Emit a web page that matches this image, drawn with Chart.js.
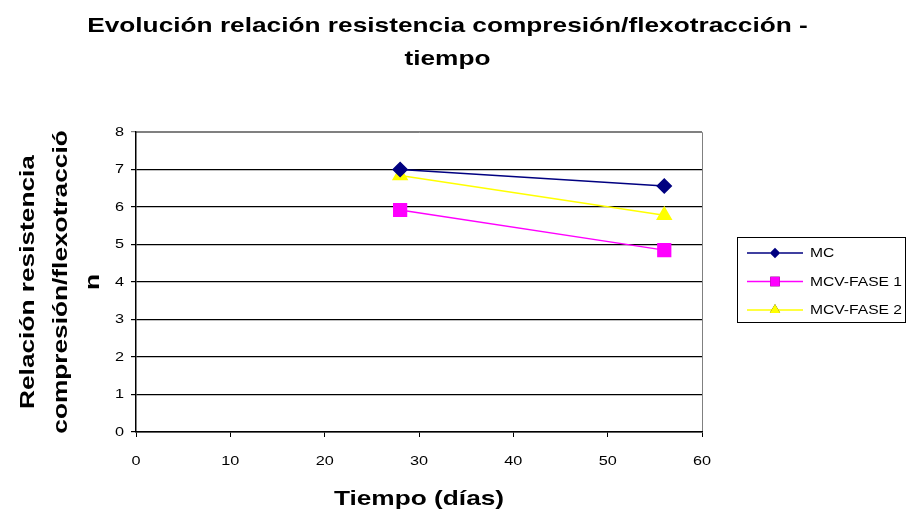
<!DOCTYPE html>
<html lang="es">
<head>
<meta charset="UTF-8">
<title>Evolución relación resistencia compresión/flexotracción</title>
<script src="https://cdn.jsdelivr.net/npm/chart.js"></script>
<style>
    html, body { margin: 0; padding: 0; background: #fff; }
    #wrap { width: 907px; height: 511px; }
</style>
</head>
<body>
<div id="wrap"><canvas id="relacionChart" width="907" height="511"></canvas></div>
<script>
// Datos: edad de ensayo (días) y relación compresión/flexotracción
const dias = [28, 56];
const serieMC = [7.0, 6.56];
const serieFase1 = [5.92, 4.85];
const serieFase2 = [6.84, 5.78];
const nombres = ['MC', 'MCV-FASE 1', 'MCV-FASE 2'];
const titulo = ['Evolución relación resistencia compresión/flexotracción -', 'tiempo'];
const ticksY = [0, 1, 2, 3, 4, 5, 6, 7, 8];
const ticksX = [0, 10, 20, 30, 40, 50, 60];

const FUENTE = "'Liberation Sans', Arial, sans-serif";
const ENSANCHE = 1.25; // texto ensanchado en horizontal, como en la hoja de cálculo

function puntos(valores) {
    return dias.map((d, i) => ({ x: d, y: valores[i] }));
}

const lienzo = document.getElementById('relacionChart');
const ctx2d = lienzo.getContext('2d');

// Todo el texto se dibuja ensanchado respecto a su punto de anclaje
const fillTextOriginal = ctx2d.fillText.bind(ctx2d);
ctx2d.fillText = function (texto, x, y) {
    this.save();
    this.translate(x, y);
    this.scale(ENSANCHE, 1);
    fillTextOriginal(texto, 0, 0);
    this.restore();
};

// Marco gris del área de trazado (lado superior y derecho)
const marcoPlugin = {
    id: 'marco',
    beforeDraw(chart) {
        const a = chart.chartArea;
        const ctx = chart.ctx;
        ctx.save();
        ctx.strokeStyle = '#808080';
        ctx.lineWidth = 1;
        ctx.beginPath();
        ctx.moveTo(a.left, a.top + 0.5);
        ctx.lineTo(a.right + 0.5, a.top + 0.5);
        ctx.lineTo(a.right + 0.5, a.bottom);
        ctx.stroke();
        ctx.restore();
    }
};

// Título en dos líneas centrado en el lienzo
const tituloPlugin = {
    id: 'tituloCentrado',
    afterDraw(chart) {
        const ctx = chart.ctx;
        ctx.save();
        ctx.font = 'bold 21px ' + FUENTE;
        ctx.fillStyle = '#000';
        ctx.textAlign = 'center';
        ctx.textBaseline = 'alphabetic';
        titulo.forEach((linea, i) => {
            ctx.fillText(linea, chart.width / 2 - 6, 32 + i * 33);
        });
        ctx.restore();
    }
};

// Leyenda con recuadro a la derecha
const leyendaPlugin = {
    id: 'leyendaCaja',
    afterDraw(chart) {
        const ctx = chart.ctx;
        const x0 = 737, y0 = 237, w = 169, h = 86;
        ctx.save();
        ctx.fillStyle = '#fff';
        ctx.fillRect(x0, y0, w, h);
        ctx.strokeStyle = '#000';
        ctx.lineWidth = 1;
        ctx.strokeRect(x0 + 0.5, y0 + 0.5, w - 1, h - 1);
        ctx.font = '12.5px ' + FUENTE;
        ctx.textBaseline = 'middle';
        chart.data.datasets.forEach((ds, i) => {
            const y = y0 + 16 + i * 28.5;
            ctx.strokeStyle = ds.borderColor;
            ctx.lineWidth = 1.5;
            ctx.beginPath();
            ctx.moveTo(747, y);
            ctx.lineTo(803, y);
            ctx.stroke();
            Chart.helpers.drawPoint(ctx, {
                pointStyle: ds.pointStyle,
                radius: ds.pointRadius * 0.75,
                borderWidth: 0
            }, 775, y);
            ctx.fillStyle = ds.pointBackgroundColor;
            ctx.fill();
            ctx.fillStyle = '#000';
            ctx.fillText(ds.label, 810, y + 1);
        });
        ctx.restore();
    }
};

new Chart(lienzo, {
    type: 'line',
    data: {
        datasets: [
            {
                label: nombres[0],
                data: puntos(serieMC),
                borderColor: '#000080',
                pointBackgroundColor: '#000080',
                pointBorderColor: '#000080',
                pointStyle: 'rectRot',
                pointRadius: 7,
                borderWidth: 1.5
            },
            {
                label: nombres[1],
                data: puntos(serieFase1),
                borderColor: '#FF00FF',
                pointBackgroundColor: '#FF00FF',
                pointBorderColor: '#FF00FF',
                pointStyle: 'rect',
                pointRadius: 9,
                borderWidth: 1.5
            },
            {
                label: nombres[2],
                data: puntos(serieFase2),
                borderColor: '#FFFF00',
                pointBackgroundColor: '#FFFF00',
                pointBorderColor: '#FFFF00',
                pointStyle: 'triangle',
                pointRadius: 8,
                borderWidth: 1.5
            }
        ]
    },
    options: {
        responsive: false,
        animation: false,
        layout: { padding: { left: 0, right: 205, top: 132, bottom: 0 } },
        plugins: {
            legend: { display: false },
            tooltip: { enabled: false },
            title: { display: false }
        },
        scales: {
            x: {
                type: 'linear',
                min: 0,
                max: 60,
                afterBuildTicks(scale) {
                    scale.ticks = ticksX.map(v => ({ value: v }));
                },
                afterFit(scale) { scale.height = 79; },
                border: { display: true, color: '#000', width: 1.5 },
                grid: {
                    drawOnChartArea: false,
                    drawTicks: true,
                    tickLength: 5,
                    color: '#000'
                },
                ticks: {
                    color: '#000',
                    font: { family: FUENTE, size: 13 },
                    padding: 17
                },
                title: {
                    display: true,
                    text: 'Tiempo (días)',
                    color: '#000',
                    font: { family: FUENTE, size: 21, weight: 'bold' },
                    padding: { top: 12, bottom: -1 }
                }
            },
            y: {
                min: 0,
                max: 8,
                afterBuildTicks(scale) {
                    scale.ticks = ticksY.map(v => ({ value: v }));
                },
                afterFit(scale) { scale.width = 136; },
                border: { display: true, color: '#000', width: 1.5 },
                grid: {
                    color: ctx => (ctx.tick && ctx.tick.value === 8 ? '#808080' : '#000'),
                    lineWidth: 1.2,
                    drawTicks: true,
                    tickLength: 5
                },
                ticks: {
                    color: '#000',
                    font: { family: FUENTE, size: 13 },
                    padding: 7
                },
                title: {
                    display: true,
                    text: ['Relación resistencia', 'compresión/flexotracció', 'n'],
                    color: '#000',
                    font: { family: FUENTE, size: 21, weight: 'bold', lineHeight: 1.55 },
                    padding: { top: 12 }
                }
            }
        }
    },
    plugins: [marcoPlugin, tituloPlugin, leyendaPlugin]
});
</script>
</body>
</html>
